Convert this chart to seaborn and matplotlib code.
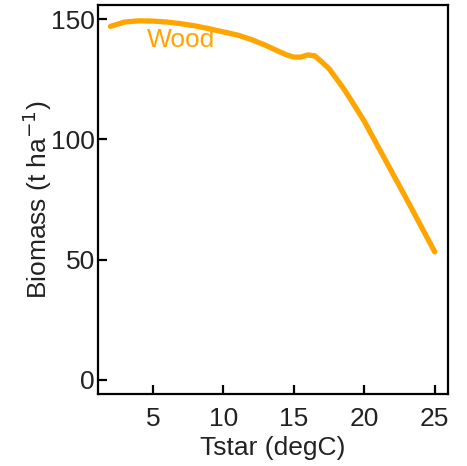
import numpy as np
import pandas as pd
import matplotlib
matplotlib.use("Agg")
import matplotlib.pyplot as plt
import seaborn as sns

# Data
tstar = [2, 3, 4, 5, 6, 7, 8, 9, 10, 11, 12, 13, 14, 14.5, 15, 15.5, 16, 16.5, 17,
         17.5, 18, 18.5, 19, 20, 21, 22, 23, 24, 25]
wood = [147.1, 148.9, 149.4, 149.3, 148.9, 148.2, 147.3, 146.1, 144.8, 143.5, 141.6, 139.2,
        136.5, 135.2, 134.3, 134.3, 135.2, 134.8, 132.2, 129.5, 125.5, 121.5, 117.0,
        107.6, 96.8, 86.0, 75.2, 64.2, 53.2]
xticks = [5, 10, 15, 20, 25]
yticks = [0, 50, 100, 150]

sns.set_theme(style="white")
plt.rcParams['font.family'] = ['Liberation Sans', 'DejaVu Sans']

df = pd.DataFrame({"Tstar": tstar, "Wood": wood})

fig = plt.figure(figsize=(4.67, 4.66), dpi=100)
ax = fig.add_axes([0.2088, 0.1545, 0.7499, 0.8348])

sns.lineplot(data=df, x="Tstar", y="Wood", ax=ax, color="#FFA500", linewidth=3.8,
             solid_capstyle="round", solid_joinstyle="round")

ax.set_xlim(1.08, 25.92)
ax.set_ylim(-6, 156)
ax.set_xticks(xticks)
ax.set_yticks(yticks)
ax.set_xticklabels([str(t) for t in xticks])
ax.set_yticklabels([str(t) for t in yticks])

for s in ax.spines.values():
    s.set_color("black")
    s.set_linewidth(1.6)

ax.tick_params(axis="both", which="major", bottom=True, left=True, direction="in",
               length=6.5, width=1.6, color="black", labelsize=19, labelcolor="#222222")
ax.tick_params(axis="x", pad=9)
ax.tick_params(axis="y", pad=2)

ax.set_xlabel("Tstar (degC)", fontsize=19, color="#222222", labelpad=4)
ax.set_ylabel(r"Biomass (t ha$^{-1}$)", fontsize=19, color="#222222", labelpad=-2)

ax.text(7.0, 141.3, "Wood", color="#FFA500", fontsize=19, ha="center", va="center")

fig.savefig("out.png", dpi=100)
